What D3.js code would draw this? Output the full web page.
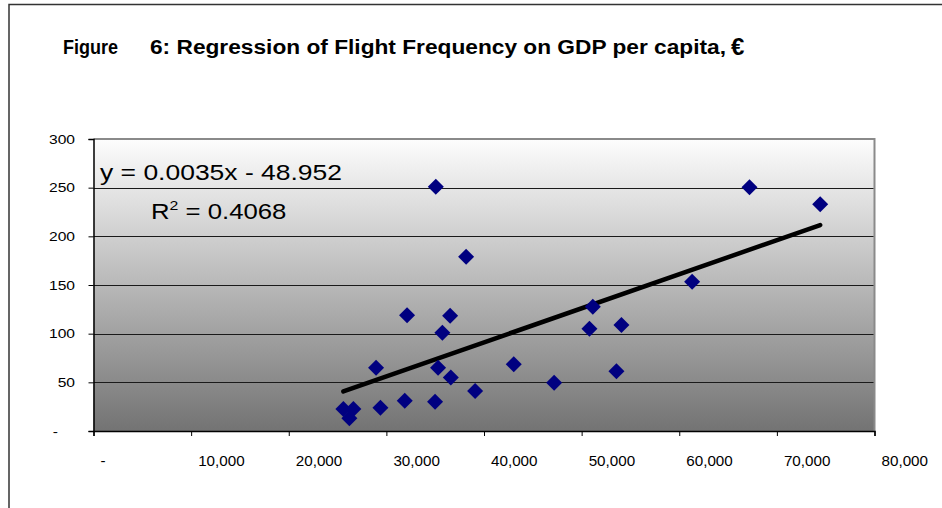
<!DOCTYPE html>
<html>
<head>
<meta charset="utf-8">
<script src="https://cdn.jsdelivr.net/npm/d3@7"></script>
<style>
  html, body { margin: 0; padding: 0; background: #fff; }
  svg { display: block; }
  text { font-family: "Liberation Sans", Arial, sans-serif; }
</style>
</head>
<body>
<svg id="chart" width="942" height="508"></svg>
<script>
// ---- data ----
const gdpPerCapita = [35062, 38166, 32121, 36527, 35738, 28945, 35297, 36598, 39088, 43050,
                      31885, 34990, 29389, 25594, 26619, 26209, 67193, 74436, 61322, 51145,
                      50800, 54078, 53566, 47182];
const flightFrequency = [251, 179, 119, 118.5, 101, 65, 65, 55, 41, 68.5,
                         31, 30, 24, 22.6, 22.6, 13, 250.3, 233, 153.4, 127.7,
                         105, 109, 61.3, 49.6];
const xTicks = [0, 10000, 20000, 30000, 40000, 50000, 60000, 70000, 80000];
const yTicks = [0, 50, 100, 150, 200, 250, 300];
const trendSlope = 0.0035;
const trendIntercept = -48.952;
const equationText = "y = 0.0035x - 48.952";
const rSquaredText = " = 0.4068";
const titleLead = "Figure";
const titleMain = "6: Regression of Flight Frequency on GDP per capita,";
const titleEuro = "€";

const svg = d3.select("#chart");
const plot = { left: 93.5, right: 874.5, top: 139, bottom: 431 };

const x = d3.scaleLinear().domain([0, 80000]).range([plot.left, plot.right]);
const y = d3.scaleLinear().domain([0, 300]).range([plot.bottom, plot.top]);

const fmt = v => v === 0 ? "-" : d3.format(",")(v);

// outer frame
svg.append("path")
  .attr("d", `M9,508 L9,4.5 L942,4.5`)
  .attr("fill", "none").attr("stroke", "#333").attr("stroke-width", 1.5);

// title
svg.append("text").attr("x", 63).attr("y", 54)
  .attr("font-weight", "bold").attr("font-size", 20).attr("fill", "#000")
  .attr("textLength", 55).attr("lengthAdjust", "spacingAndGlyphs")
  .text(titleLead);
svg.append("text").attr("x", 150).attr("y", 54)
  .attr("font-weight", "bold").attr("font-size", 20).attr("fill", "#000")
  .attr("textLength", 576).attr("lengthAdjust", "spacingAndGlyphs")
  .text(titleMain);
svg.append("text").attr("x", 731).attr("y", 55)
  .attr("font-weight", "bold").attr("font-size", 24).attr("fill", "#000")
  .text(titleEuro);

// gradient plot background
const defs = svg.append("defs");
const grad = defs.append("linearGradient").attr("id", "bg").attr("x1", 0).attr("y1", 0).attr("x2", 0).attr("y2", 1);
grad.append("stop").attr("offset", "0%").attr("stop-color", "#fdfdfd");
grad.append("stop").attr("offset", "100%").attr("stop-color", "#737373");

svg.append("rect")
  .attr("x", plot.left).attr("y", plot.top)
  .attr("width", plot.right - plot.left).attr("height", plot.bottom - plot.top)
  .attr("fill", "url(#bg)");

// plot border (top, right)
svg.append("path")
  .attr("d", `M${plot.left},${plot.top} L${plot.right},${plot.top} L${plot.right},${plot.bottom}`)
  .attr("fill", "none").attr("stroke", "#8a8a8a").attr("stroke-width", 2);

// gridlines
svg.append("g").selectAll("line").data(yTicks.filter(t => t > 0 && t < 300)).join("line")
  .attr("x1", plot.left).attr("x2", plot.right - 1)
  .attr("y1", d => Math.round(y(d)) + 0.5).attr("y2", d => Math.round(y(d)) + 0.5)
  .attr("stroke", "#1a1a1a").attr("stroke-width", 1);

// axes
const yAxis = d3.axisLeft(y).tickValues(yTicks).tickSize(5).tickFormat("");
const xAxis = d3.axisBottom(x).tickValues(xTicks).tickSize(5).tickFormat("");
const gy = svg.append("g").attr("transform", `translate(${plot.left},0)`).call(yAxis);
const gx = svg.append("g").attr("transform", `translate(0,${plot.bottom})`).call(xAxis);
[gx, gy].forEach(g => {
  g.selectAll("path.domain").attr("stroke", "#000").attr("stroke-width", 1.5);
  g.selectAll(".tick line").attr("stroke", "#000").attr("stroke-width", 1);
});

// y tick labels (accounting style: the zero dash sits further left)
svg.append("g").selectAll("text").data(yTicks).join("text")
  .attr("transform", d => `translate(${d === 0 ? 58 : 75},${y(d) + 4.5}) scale(1.2,1)`)
  .attr("text-anchor", "end").attr("font-size", 13).attr("fill", "#000")
  .text(fmt);

// x tick labels
svg.append("g").selectAll("text").data(xTicks).join("text")
  .attr("transform", d => `translate(${x(d) + 7},466) scale(1.05,1)`)
  .attr("text-anchor", "start").attr("font-size", 14.5).attr("fill", "#000")
  .text(fmt);

// trendline
const xMin = d3.min(gdpPerCapita), xMax = d3.max(gdpPerCapita);
svg.append("line")
  .attr("x1", x(xMin)).attr("y1", y(trendSlope * xMin + trendIntercept))
  .attr("x2", x(xMax)).attr("y2", y(trendSlope * xMax + trendIntercept))
  .attr("stroke", "#000").attr("stroke-width", 4.5).attr("stroke-linecap", "round");

// points
const diamond = d3.symbol().type(d3.symbolSquare).size(128);
svg.append("g").selectAll("path").data(gdpPerCapita.map((g, i) => [g, flightFrequency[i]])).join("path")
  .attr("d", diamond)
  .attr("transform", d => `translate(${x(d[0])},${y(d[1])}) rotate(45)`)
  .attr("fill", "#000080");

// equation labels
svg.append("text")
  .attr("x", 100).attr("y", 180)
  .attr("font-size", 22).attr("fill", "#000")
  .attr("textLength", 242).attr("lengthAdjust", "spacingAndGlyphs")
  .text(equationText);
const r2 = svg.append("text")
  .attr("transform", `translate(151,219) scale(1.17,1)`)
  .attr("font-size", 22).attr("fill", "#000");
r2.append("tspan").text("R");
r2.append("tspan").attr("font-size", 13.5).attr("dy", -9).text("2");
r2.append("tspan").attr("dy", 9).text(rSquaredText);
</script>
</body>
</html>
